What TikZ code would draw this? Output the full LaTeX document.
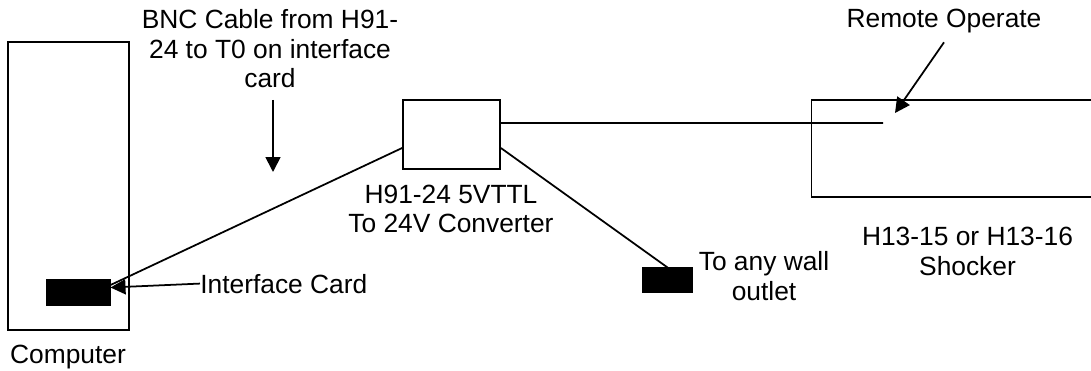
\documentclass[tikz,border=0pt]{standalone}
\usepackage{fontspec}
\setmainfont{Liberation Sans}
\usepackage{tikz}
\usetikzlibrary{arrows.meta,positioning}
\tikzset{
  >={Triangle[length=3mm,width=3mm]},
  % apparater
  unit/.style={draw=black,line width=1pt,fill=white,inner sep=0pt},
  plug/.style={draw=black,fill=black,line width=0.6pt,inner sep=0pt},
  cable/.style={draw=black,line width=1pt},
  pointer/.style={->,draw=black,line width=1pt},
  lbl/.style={font=\fontsize{15}{17}\selectfont,inner sep=0pt,align=center,anchor=base},
}
\begin{document}
\begin{tikzpicture}[x=0.02cm,y=-0.02cm]
\useasboundingbox (0,0) rectangle (1091,371);
\clip (0,0) rectangle (1091,371);
  % enheter
  \node[unit,minimum width=2.42cm,minimum height=5.76cm] (computer) at (68.5,186) {};
  \node[plug,minimum width=1.26cm,minimum height=0.5cm] (card) at (78.5,292.5) {};
  \node[unit,minimum width=1.94cm,minimum height=1.38cm] (conv) at (451.5,134.5) {};
  \node[plug,minimum width=0.98cm,minimum height=0.48cm] (outlet) at (667.5,280) {};
  \node[unit,minimum width=6.3cm,minimum height=1.94cm] (shocker) at (969,148.5) {};
  \coordinate (remote) at (883,123);
  % texter (base = sista raden)
  \node[lbl] (complbl) at (68,363) {Computer};
  \node[lbl,anchor=base west] (cardlbl) at (200,293) {Interface Card};
  \node[lbl] (bnclbl) at (270,88) {BNC Cable from H91-\\24 to T0 on interface\\card};
  \node[lbl] (convlbl) at (451,233) {H91-24 5VTTL\\To 24V Converter};
  \node[lbl] (walllbl) at (764,300) {To any wall\\outlet};
  \node[lbl] (shocklbl) at (967.5,275) {H13-15 or H13-16\\Shocker};
  \node[lbl] (remlbl) at (944,28) {Remote Operate};
  \coordinate (bnctail) at (273,100);
  \coordinate (bnctip) at (273,172);
  \coordinate (remtip) at (895,113);
  % kablar
  \draw[cable] ([yshift=0.15cm]card.east) -- ([yshift=-0.27cm]conv.west);
  \draw[cable] ([yshift=0.23cm]conv.east) -- (remote);
  \draw[cable] ([yshift=-0.27cm]conv.east) -- (outlet.north);
  % pilar
  \draw[pointer] (cardlbl.west) -- ([yshift=0.1cm]card.east);
  \draw[pointer] (bnctail) -- (bnctip);
  \draw[pointer] ([yshift=-0.17cm]remlbl.south) -- (remtip);
\end{tikzpicture}
\end{document}
